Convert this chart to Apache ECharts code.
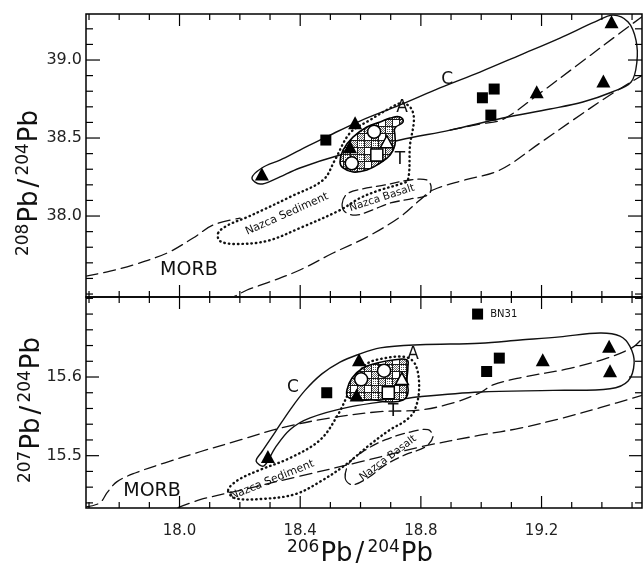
<!DOCTYPE html>
<html><head><meta charset="utf-8">
<script src="https://cdn.jsdelivr.net/npm/echarts@6/dist/echarts.min.js"></script>
<style>html,body{margin:0;padding:0;background:#fff}#c{width:643px;height:573px}</style>
</head><body><div id="c"></div>
<script>
// ---------------- axis definitions ----------------
const xTickLabels = [18.0, 18.4, 18.8, 19.2];
const yTickLabelsTop = [38.0, 38.5, 39.0];
const yTickLabelsBottom = [15.5, 15.6];
const xRange = [17.690, 19.533];
const yRangeTop = [37.481, 39.295];
const yRangeBottom = [15.4335, 15.7017];

// ---------------- top panel: 208Pb/204Pb ----------------
const topFilledTriangles = [[18.273,38.27],[18.582,38.598],[18.565,38.444],[19.184,38.797],[19.405,38.865],[19.432,39.246]];
const topFilledSquares = [[18.485,38.487],[19.004,38.758],[19.043,38.814],[19.032,38.647]];
const topOpenCircles = [[18.645,38.54],[18.571,38.338]];
const topOpenSquares = [[18.654,38.391]];
const topOpenTriangles = [[18.687,38.476]];

const topFieldC = [[18.240,38.244],[18.273,38.308],[18.333,38.359],[18.399,38.423],[18.499,38.519],[18.598,38.609],[18.731,38.712],[18.863,38.821],[18.996,38.923],[19.129,39.032],[19.261,39.141],[19.377,39.244],[19.437,39.288],[19.487,39.244],[19.513,39.128],[19.516,38.987],[19.497,38.859],[19.434,38.795],[19.337,38.731],[19.228,38.686],[19.072,38.628],[18.897,38.551],[18.731,38.487],[18.532,38.391],[18.399,38.308],[18.317,38.237],[18.267,38.205]];
const topMorbUpperWest = [[17.690,37.615],[17.770,37.647],[17.846,37.686],[17.959,37.763],[18.045,37.859],[18.111,37.942],[18.201,37.987]];
const topMorbUpperEast = [[18.897,38.551],[18.996,38.590],[19.072,38.620],[19.195,38.788],[19.328,38.981],[19.460,39.173],[19.536,39.282]];
const topMorbLower = [[18.150,37.470],[18.177,37.481],[18.224,37.526],[18.290,37.571],[18.399,37.654],[18.509,37.763],[18.621,37.865],[18.731,37.994],[18.797,38.103],[18.840,38.167],[18.946,38.231],[19.062,38.295],[19.195,38.468],[19.304,38.615],[19.427,38.776],[19.536,38.904]];
const topNazcaSediment = [[18.128,37.891],[18.161,37.942],[18.217,37.987],[18.283,38.045],[18.366,38.122],[18.476,38.231],[18.515,38.359],[18.565,38.532],[18.631,38.615],[18.698,38.692],[18.738,38.724],[18.767,38.692],[18.777,38.615],[18.764,38.455],[18.757,38.231],[18.731,38.205],[18.665,38.167],[18.598,38.115],[18.532,38.038],[18.399,37.923],[18.290,37.840],[18.184,37.821],[18.134,37.840]];
const topNazcaBasalt = [[18.539,38.077],[18.555,38.141],[18.605,38.173],[18.681,38.199],[18.764,38.231],[18.820,38.231],[18.834,38.186],[18.824,38.135],[18.764,38.109],[18.698,38.083],[18.638,38.038],[18.585,38.006],[18.549,38.026]];
const topCluster = [[18.532,38.346],[18.542,38.423],[18.575,38.506],[18.621,38.571],[18.665,38.603],[18.698,38.628],[18.731,38.635],[18.741,38.603],[18.714,38.564],[18.714,38.519],[18.714,38.455],[18.698,38.391],[18.665,38.340],[18.621,38.295],[18.575,38.282],[18.542,38.308]];

// ---------------- bottom panel: 207Pb/204Pb ----------------
const botFilledTriangles = [[18.293,15.499],[18.595,15.622],[18.587,15.577],[19.204,15.622],[19.424,15.639],[19.427,15.608]];
const botFilledSquares = [[18.488,15.580],[18.988,15.680],[19.060,15.624],[19.018,15.607]];
const botOpenCircles = [[18.602,15.597],[18.678,15.608]];
const botOpenSquares = [[18.692,15.580]];
const botOpenTriangles = [[18.737,15.598]];

const botFieldC = [[18.254,15.493],[18.273,15.505],[18.317,15.530],[18.366,15.558],[18.416,15.583],[18.472,15.604],[18.532,15.619],[18.588,15.628],[18.665,15.637],[18.797,15.641],[18.996,15.643],[19.129,15.647],[19.261,15.651],[19.394,15.656],[19.460,15.652],[19.493,15.639],[19.507,15.618],[19.487,15.595],[19.427,15.585],[19.238,15.583],[18.996,15.581],[18.797,15.575],[18.721,15.571],[18.565,15.562],[18.433,15.548],[18.366,15.533],[18.317,15.510],[18.280,15.487]];
const botMorbUpper = [[17.690,15.435],[17.736,15.440],[17.760,15.453],[17.793,15.467],[17.853,15.478],[17.952,15.491],[18.068,15.505],[18.201,15.520],[18.333,15.535],[18.499,15.548],[18.665,15.556],[18.797,15.558],[18.907,15.567],[18.996,15.580],[19.039,15.590],[19.129,15.599],[19.294,15.611],[19.417,15.624],[19.503,15.638],[19.536,15.650]];
const botMorbLower = [[17.995,15.434],[18.068,15.444],[18.201,15.456],[18.399,15.474],[18.598,15.492],[18.797,15.511],[18.996,15.526],[19.129,15.535],[19.271,15.548],[19.394,15.561],[19.536,15.577]];
const botNazcaSediment = [[18.161,15.456],[18.194,15.469],[18.267,15.482],[18.366,15.497],[18.466,15.520],[18.525,15.552],[18.565,15.583],[18.615,15.615],[18.681,15.624],[18.754,15.625],[18.784,15.614],[18.794,15.583],[18.777,15.556],[18.747,15.544],[18.698,15.533],[18.631,15.514],[18.549,15.488],[18.466,15.467],[18.383,15.451],[18.273,15.445],[18.184,15.446]];
const botNazcaBasalt = [[18.549,15.472],[18.565,15.492],[18.615,15.507],[18.681,15.520],[18.764,15.530],[18.824,15.533],[18.840,15.524],[18.814,15.511],[18.747,15.501],[18.681,15.488],[18.625,15.472],[18.572,15.463]];
const botCluster = [[18.555,15.5835],[18.572,15.5987],[18.608,15.6114],[18.655,15.6178],[18.708,15.6216],[18.754,15.6216],[18.757,15.6127],[18.754,15.5962],[18.757,15.5797],[18.741,15.5708],[18.698,15.5682],[18.641,15.5708],[18.588,15.5708],[18.558,15.5746]];

// annotation texts (data coordinates)
const topNotes = [
  {t:'C', p:[18.887,38.872], size:17, rot:0},
  {t:'A', p:[18.738,38.692], size:17, rot:0},
  {t:'T', p:[18.731,38.359], size:17, rot:0},
  {t:'MORB', p:[18.031,37.654], size:19, rot:0},
  {t:'Nazca Sediment', p:[18.356,38.013], size:11, rot:24},
  {t:'Nazca Basalt', p:[18.671,38.115], size:10.5, rot:18}
];
const botNotes = [
  {t:'C', p:[18.376,15.586], size:17, rot:0},
  {t:'A', p:[18.774,15.628], size:17, rot:0},
  {t:'T', p:[18.708,15.556], size:17, rot:0},
  {t:'MORB', p:[17.909,15.455], size:19, rot:0},
  {t:'Nazca Sediment', p:[18.307,15.469], size:11, rot:22},
  {t:'Nazca Basalt', p:[18.691,15.497], size:10.5, rot:37},
  {t:'BN31', p:[19.030,15.680], size:10, rot:0, align:'left'}
];

// ---------------- rendering ----------------
const FONT = '"DejaVu Sans", "Liberation Sans", sans-serif';
const chart = echarts.init(document.getElementById('c'), null, {renderer:'canvas'});

function makePattern(){
  const n = 7, T = 2*n;
  const c = document.createElement('canvas'); c.width = T; c.height = T;
  const g = c.getContext('2d');
  g.fillStyle = '#fff'; g.fillRect(0,0,T,T);
  for (let i=0;i<n;i++) for (let j=0;j<n;j++){
    if ((i+j)%2===0){
      g.fillStyle = '#6a6a6a';
      g.fillRect(i, j, 1, 1);
      g.fillRect(n+i, n+j, 1, 1);
    }
    if (i%2===0 && j%2===1){
      g.fillStyle = '#555';
      g.fillRect(n+i, j, 1, 1);
    }
  }
  g.strokeStyle = '#1a1a1a'; g.lineWidth = 1;
  g.beginPath();
  g.moveTo(0.5,0); g.lineTo(0.5,T); g.moveTo(n+0.5,0); g.lineTo(n+0.5,T);
  g.moveTo(0,0.5); g.lineTo(T,0.5); g.moveTo(0,n+0.5); g.lineTo(T,n+0.5);
  g.stroke();
  return c;
}
const pattern = makePattern();

function outline(grid, pts, closed, dash, width){
  return {type:'custom', xAxisIndex:grid, yAxisIndex:grid, clip:true, silent:true, z:2,
    data:[pts[0]],
    renderItem:(params, api)=>({type: closed ? 'polygon' : 'polyline',
      shape:{points: pts.map(p=>api.coord(p)), smooth:0.35},
      style:{fill:'none', stroke:'#111', lineWidth:width, lineDash:dash, lineCap:'round'}})};
}
function blob(grid, pts){
  return {type:'custom', xAxisIndex:grid, yAxisIndex:grid, clip:true, silent:true, z:3,
    data:[pts[0]],
    renderItem:(params, api)=>({type:'polygon',
      shape:{points: pts.map(p=>api.coord(p)), smooth:0.45},
      style:{fill:{image:pattern, repeat:'repeat'}, stroke:'#000', lineWidth:1.6}})};
}
function markers(grid, data, symbol, size, filled){
  return {type:'scatter', xAxisIndex:grid, yAxisIndex:grid, data, symbol, symbolSize:size, z:4, silent:true,
    itemStyle: filled ? {color:'#000', opacity:1} : {color:'#fff', borderColor:'#000', borderWidth:1.5, opacity:1}};
}
function notes(grid, list){
  return {type:'custom', xAxisIndex:grid, yAxisIndex:grid, clip:false, silent:true, z:6,
    data:list.map(n=>n.p),
    renderItem:(params, api)=>{
      const n = list[params.dataIndex];
      const c = api.coord(n.p);
      return {type:'text', x:c[0], y:c[1], rotation: n.rot*Math.PI/180,
        style:{text:n.t, fontSize:n.size, fontFamily:FONT, fill:'#111',
          align: n.align ? n.align : 'center', verticalAlign:'middle'}};
    }};
}
function ticks(grid, yR, yStep, yMajor, yMajLen, yMinLen){
  return {type:'custom', xAxisIndex:grid, yAxisIndex:grid, clip:false, silent:true, z:5,
    data:[[xRange[0], yR[0]]],
    renderItem:(params, api)=>{
      const cs = params.coordSys;
      const x0 = cs.x, x1 = cs.x + cs.width, y0 = cs.y, y1 = cs.y + cs.height;
      const ch = [];
      const st = {stroke:'#000', lineWidth:1.2};
      for (let i = Math.ceil(xRange[0]*10); i <= Math.floor(xRange[1]*10); i++){
        const v = i/10;
        const major = xTickLabels.some(t=>Math.abs(t-v)<1e-6);
        const L = major ? 12 : 6;
        const px = api.coord([v, yR[0]])[0];
        ch.push({type:'line', shape:{x1:px, y1:y1, x2:px, y2:y1-L}, style:st});
        ch.push({type:'line', shape:{x1:px, y1:y0, x2:px, y2:y0+L}, style:st});
      }
      for (let k = Math.ceil(yR[0]/yStep - 1e-6); k <= Math.floor(yR[1]/yStep + 1e-6); k++){
        const v = k*yStep;
        const major = yMajor.some(t=>Math.abs(t-v)<1e-6);
        const L = major ? yMajLen : yMinLen;
        const py = api.coord([xRange[0], v])[1];
        ch.push({type:'line', shape:{x1:x0, y1:py, x2:x0+L, y2:py}, style:st});
        ch.push({type:'line', shape:{x1:x1, y1:py, x2:x1-L, y2:py}, style:st});
      }
      return {type:'group', children:ch};
    }};
}

function xAxis(grid, showLabels){
  return {type:'value', gridIndex:grid, min:xRange[0], max:xRange[1], position:'bottom',
    axisLine:{show:false}, axisTick:{show:false}, splitLine:{show:false},
    axisLabel:{show:showLabels, customValues:xTickLabels, formatter:v=>v.toFixed(1),
      fontSize:15, fontFamily:FONT, color:'#222', margin:16}};
}
function yAxis(grid, r, labels){
  return {type:'value', gridIndex:grid, min:r[0], max:r[1],
    axisLine:{show:false}, axisTick:{show:false}, splitLine:{show:false},
    axisLabel:{customValues:labels, formatter:v=>v.toFixed(1), fontSize:16, fontFamily:FONT, color:'#222', margin:4}};
}

// axis title built from separate text pieces (superscript mass numbers)
const measureCtx = document.createElement('canvas').getContext('2d');
function titleGroup(x, y, rot, a, b){
  const BIG = 26, SUP = 17;
  const parts = [
    {t:a, s:SUP, dy:-14, gap:1}, {t:'Pb', s:BIG, dy:-8, gap:3}, {t:'/', s:BIG, dy:-8, gap:3},
    {t:b, s:SUP, dy:-14, gap:1}, {t:'Pb', s:BIG, dy:-8, gap:0}
  ];
  let w = 0;
  parts.forEach(p=>{ measureCtx.font = p.s + 'px ' + FONT; p.w = measureCtx.measureText(p.t).width; p.x = w; w += p.w + p.gap; });
  const children = parts.map(p=>({type:'text', x:p.x - w/2, y:p.dy,
    style:{text:p.t, fontSize:p.s, fontFamily:FONT, fill:'#111', align:'left', verticalAlign:'middle'}}));
  return {type:'group', x, y, rotation:rot, children};
}

const option = {
  animation:false,
  backgroundColor:'#fff',
  grid:[
    {left:86, top:14, width:556, height:283, show:true, borderColor:'#000', borderWidth:1.5, backgroundColor:'transparent'},
    {left:86, top:297, width:556, height:211, show:true, borderColor:'#000', borderWidth:1.5, backgroundColor:'transparent'}
  ],
  xAxis:[xAxis(0,false), xAxis(1,true)],
  yAxis:[yAxis(0, yRangeTop, yTickLabelsTop), yAxis(1, yRangeBottom, yTickLabelsBottom)],
  graphic:[
    titleGroup(360, 562, 0, '206', '204'),
    titleGroup(38, 183, Math.PI/2, '208', '204'),
    titleGroup(40, 410, Math.PI/2, '207', '204')
  ],
  series:[
    outline(0, topFieldC, true, null, 1.4),
    outline(0, topMorbUpperWest, false, [12,6], 1.3),
    outline(0, topMorbUpperEast, false, [12,6], 1.3),
    outline(0, topMorbLower, false, [12,6], 1.3),
    outline(0, topNazcaSediment, true, [0.5,4], 2.4),
    outline(0, topNazcaBasalt, true, [9,5], 1.3),
    blob(0, topCluster),
    markers(0, topFilledTriangles, 'triangle', [14,13], true),
    markers(0, topFilledSquares, 'rect', 11, true),
    markers(0, topOpenCircles, 'circle', 13, false),
    markers(0, topOpenSquares, 'rect', 12, false),
    markers(0, topOpenTriangles, 'triangle', [13,12], false),
    notes(0, topNotes),
    ticks(0, yRangeTop, 0.1, yTickLabelsTop, 14, 7),

    outline(1, botFieldC, true, null, 1.4),
    outline(1, botMorbUpper, false, [12,6], 1.3),
    outline(1, botMorbLower, false, [12,6], 1.3),
    outline(1, botNazcaSediment, true, [0.5,4], 2.4),
    outline(1, botNazcaBasalt, true, [9,5], 1.3),
    blob(1, botCluster),
    markers(1, botFilledTriangles, 'triangle', [14,13], true),
    markers(1, botFilledSquares, 'rect', 11, true),
    markers(1, botOpenCircles, 'circle', 13, false),
    markers(1, botOpenSquares, 'rect', 12, false),
    markers(1, botOpenTriangles, 'triangle', [13,12], false),
    notes(1, botNotes),
    ticks(1, yRangeBottom, 0.02, yTickLabelsBottom, 13, 7)
  ]
};
chart.setOption(option);
</script></body></html>
